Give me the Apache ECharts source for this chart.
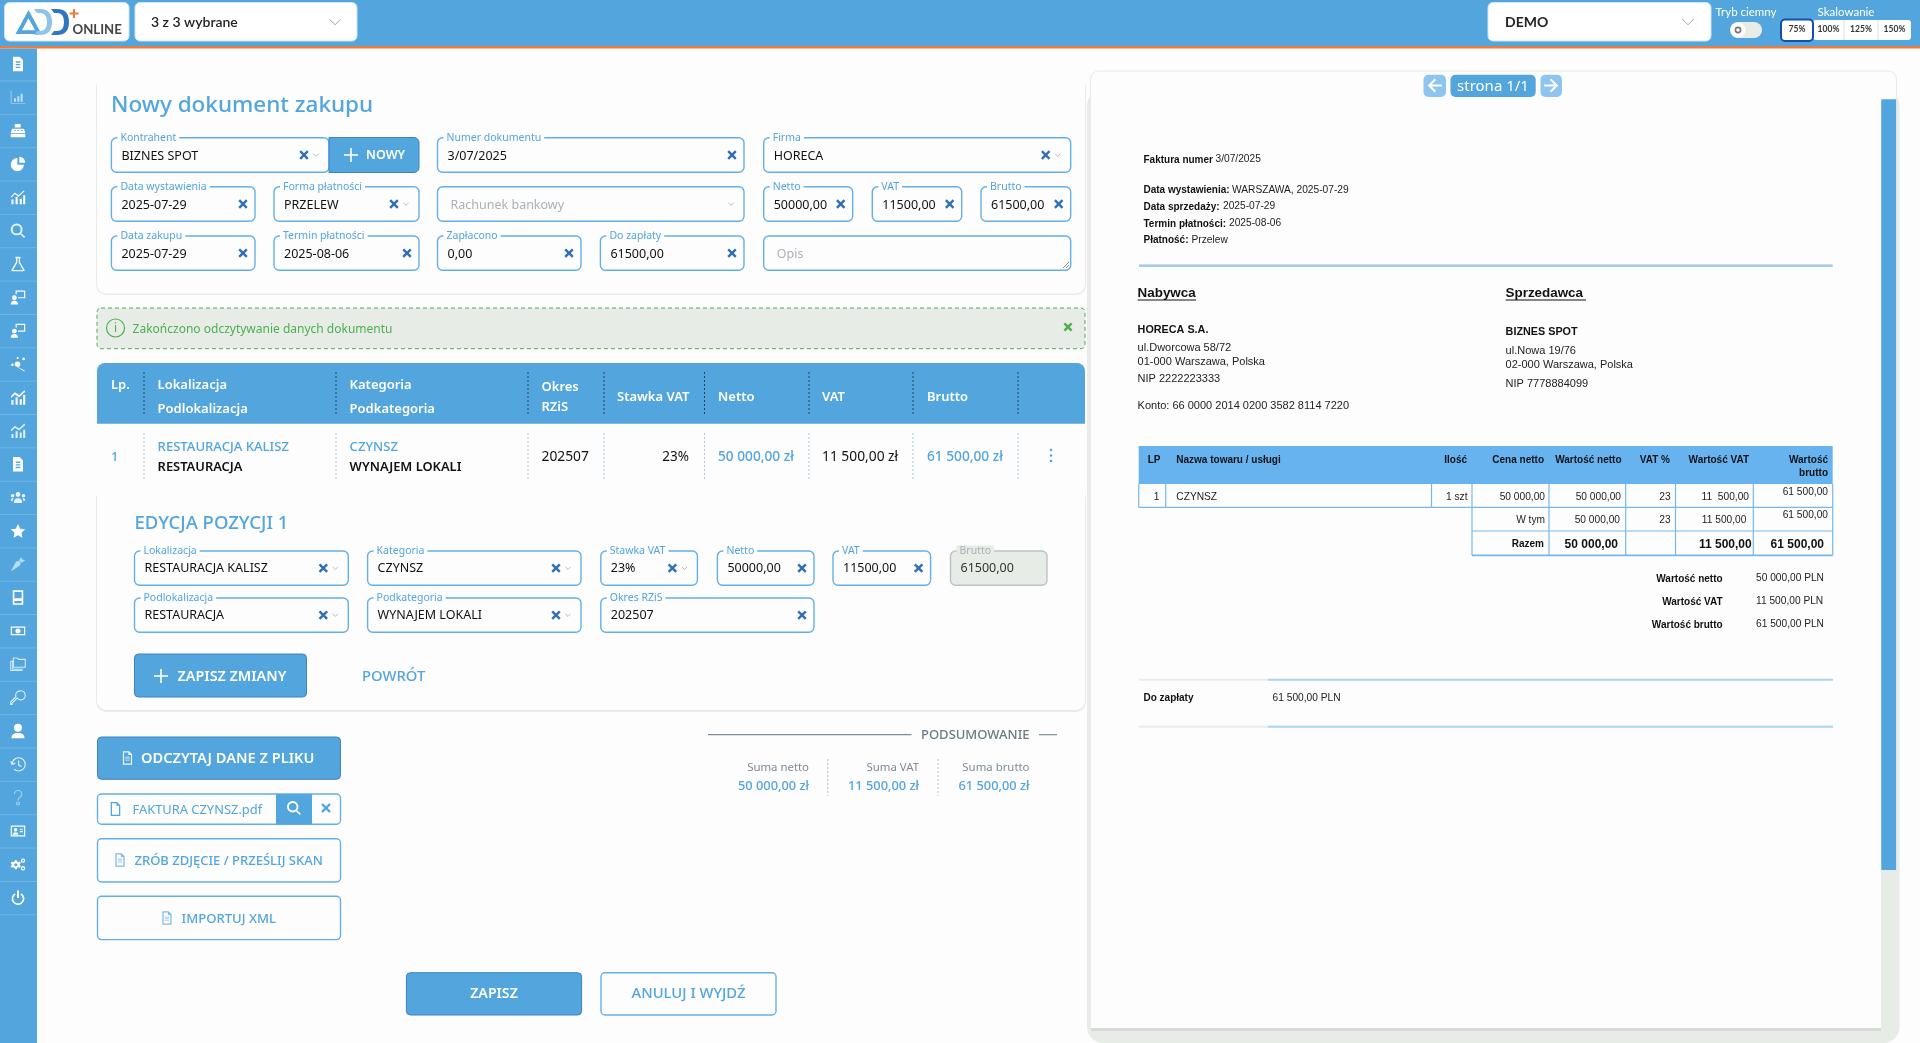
<!DOCTYPE html>
<html lang="pl">
<head>
<meta charset="utf-8">
<title>Nowy dokument zakupu</title>
<script src="https://cdn.jsdelivr.net/npm/echarts@6/dist/echarts.min.js"></script>
<style>
  html, body { margin: 0; height: 100%; background: #fdfdfd; }
  #main { width: 100vw; height: 100vh; }
</style>
</head>
<body>
<div id="main"></div>
<script>
// form texts
const topLabels = ['Kontrahent', 'Numer dokumentu', 'Firma', 'Data wystawienia', 'Forma płatności', '', 'Netto', 'VAT', 'Brutto', 'Data zakupu', 'Termin płatności', 'Zapłacono', 'Do zapłaty', '']
const topValues = ['BIZNES SPOT', '3/07/2025', 'HORECA', '2025-07-29', 'PRZELEW', '', '50000,00', '11500,00', '61500,00', '2025-07-29', '2025-08-06', '0,00', '61500,00', '']
const topHints = ['', '', '', '', '', 'Rachunek bankowy', '', '', '', '', '', '', '', 'Opis']
const editLabels = ['Lokalizacja', 'Kategoria', 'Stawka VAT', 'Netto', 'VAT', 'Brutto', 'Podlokalizacja', 'Podkategoria', 'Okres RZiS']
const editValues = ['RESTAURACJA KALISZ', 'CZYNSZ', '23%', '50000,00', '11500,00', '61500,00', 'RESTAURACJA', 'WYNAJEM LOKALI', '202507']

// position table
const rowLp = '1'
const rowLocation = ['RESTAURACJA KALISZ', 'RESTAURACJA']
const rowCategory = ['CZYNSZ', 'WYNAJEM LOKALI']
const rowPeriod = '202507'
const rowRate = '23%'
const rowAmounts = ['50 000,00 zł', '11 500,00 zł', '61 500,00 zł']
const summaryLabels = ['Suma netto', 'Suma VAT', 'Suma brutto']
const summaryValues = ['50 000,00 zł', '11 500,00 zł', '61 500,00 zł']

// invoice preview
const invoiceHeadLabels = ['Data wystawienia:', 'Data sprzedaży:', 'Termin płatności:', 'Płatność:']
const invoiceHeadValues = ['WARSZAWA, 2025-07-29', '2025-07-29', '2025-08-06', 'Przelew']
const buyerLines = ['ul.Dworcowa 58/72', '01-000 Warszawa, Polska', 'NIP 2222223333', 'Konto: 66 0000 2014 0200 3582 8114 7220']
const sellerLines = ['ul.Nowa 19/76', '02-000 Warszawa, Polska', 'NIP 7778884099']
const invoiceColumns = ['Ilość', 'Cena netto', 'Wartość netto', 'VAT %', 'Wartość VAT', 'Wartość']
const invoiceRow = ['1 szt', '50 000,00', '50 000,00', '23', '11  500,00', '61 500,00']
const invoiceSubRow = ['W tym', '50 000,00', '23', '11 500,00', '61 500,00']
const invoiceTotals = ['Razem', '50 000,00', '11 500,00', '61 500,00']
const invoiceSumLabels = ['Wartość netto', 'Wartość VAT', 'Wartość brutto']
const invoiceSumValues = ['50 000,00 PLN', '11 500,00 PLN', '61 500,00 PLN']
const scaleSteps = ['75%', '100%', '125%', '150%']

const BLUE = '#52a5dd'
const BG = '#fdfdfd'
const GREY = '#e8ece7'
const EDGE = '#3f82c0'
const els = []

const rect = (x, y, w, h, fill, stroke, lw, r, dash) => els.push({
  type: 'rect', silent: true,
  shape: { x, y, width: w, height: h, r: r || 0 },
  style: { fill: fill || 'none', stroke: stroke || 'none', lineWidth: lw || 0, lineDash: dash }
})
const line = (x1, y1, x2, y2, color, lw, dash) => els.push({
  type: 'line', silent: true,
  shape: { x1, y1, x2, y2 },
  style: { stroke: color, lineWidth: lw || 1, lineDash: dash }
})
const txt = (text, x, y, color, font, align, extra) => els.push({
  type: 'text', silent: true, x, y,
  style: Object.assign({ text, fill: color, font, textAlign: align || 'left', textVerticalAlign: 'middle' }, extra)
})
const noto = (size, weight) => `${weight || 400} ${size}px "Noto Sans"`
const lato = (size, weight) => `${weight || 400} ${size}px Lato`
const arial = (size, weight) => `${weight || 400} ${size}px "Liberation Sans"`

// graphic has no plain path type, so every icon outline is registered as a shape
const iconShapes = {}
const iconShape = d => {
  if (!iconShapes[d]) {
    const name = 'icon' + Object.keys(iconShapes).length
    const Cls = echarts.graphic.extendPath(d, {})
    echarts.graphic.registerShape(name, Cls)
    iconShapes[d] = { name, box: new Cls().getBoundingRect() }
  }
  return iconShapes[d]
}
const icon = (d, cx, cy, size, color, stroked, lw, opacity) => {
  const { name, box } = iconShape(d)
  const k = size / Math.max(box.width, box.height)
  const op = opacity == null ? 1 : opacity
  els.push({
    type: name, silent: true,
    x: cx - (box.x + box.width / 2) * k,
    y: cy - (box.y + box.height / 2) * k,
    scaleX: k, scaleY: k,
    style: stroked
      ? { fill: 'none', stroke: color, lineWidth: (lw || 1.2) / k, opacity: op }
      : { fill: color, opacity: op }
  })
}
const cross = (cx, cy, color, half, lw) => {
  const d = half || 3.8
  line(cx - d, cy - d, cx + d, cy + d, color || '#2f6fb5', lw || 2.4)
  line(cx - d, cy + d, cx + d, cy - d, color || '#2f6fb5', lw || 2.4)
}
const chevron = (cx, cy, d, color) => {
  const s = d || 2.6
  line(cx - s, cy - s / 2, cx, cy + s / 2, color || '#b4bcc2', 1)
  line(cx, cy + s / 2, cx + s, cy - s / 2, color || '#b4bcc2', 1)
}
const plus = (cx, cy, d) => {
  line(cx - d, cy, cx + d, cy, '#fff', 1.6)
  line(cx, cy - d, cx, cy + d, '#fff', 1.6)
}
const DOC = 'M5 1H15L20 6V23H5ZM7 3V21H18V7H14V3Z'
const DOC_LINES = 'M5 1H15L20 6V23H5ZM7 3V21H18V7H14V3ZM9 10V11H16V10ZM9 13V14H16V13ZM9 16V17H16V16Z'

// one input with its floating label
const field = (label, value, hint, x1, x2, y1, y2, mode, dy) => {
  const disabled = mode === 'off'
  rect(x1, y1, x2 - x1, y2 - y1, disabled ? GREY : BG, disabled ? '#b9c2c6' : '#63b0e8', 1.4, 5)
  if (label) {
    txt(label, x1 + 6, y1, disabled ? '#a8b0b4' : BLUE, noto(10.5), 'left', { backgroundColor: disabled ? GREY : BG, padding: [0, 3] })
  }
  const cy = (y1 + y2) / 2
  txt(value || hint, x1 + (value ? 10 : 13), cy + 0.5 + (dy || 0), value ? (disabled ? '#333' : '#111') : '#aab0b5', noto(12.5))
  if (mode === 'select') { cross(x2 - 25, cy); chevron(x2 - 13, cy) }
  if (mode === 'clear') cross(x2 - 12, cy)
  if (mode === 'chevron') chevron(x2 - 13, cy)
}

// ---- page frame ----
rect(0, 0, 1920, 46, BLUE)
rect(0, 46, 1920, 2.5, '#ee7b3a')
rect(0, 48.5, 37, 994.5, BLUE)

const sideIcons = [
  ['M5 1H15L20 6V23H5ZM9 8V10H16V8ZM9 12V14H16V12ZM9 16V18H16V16Z', 0, 1],
  ['M1 3H2V21H23V22H1ZM6 14H9V19H6ZM11 11H14V19H11ZM16 7H19V19H16Z', 0, 0.65],
  ['M7 2H16V7H7ZM3 9H21L23 16H1ZM1 17H23V22H1ZM6 11V12H9V11ZM11 11V12H14V11ZM16 11V12H19V11Z', 0, 1],
  ['M11 3A10 10 0 1 0 21 13H11ZM14 1A10 10 0 0 1 23 10H14Z', 0, 1],
  ['M2 11L8 5L13 9L21 2L22 3L13 11L8 7L3 12ZM3 15H6V22H3ZM9 11H12V22H9ZM15 14H18V22H15ZM20 9H23V22H20Z', 0, 1],
  ['M10 1A9 9 0 1 1 10 19A9 9 0 1 1 10 1ZM10 4A6 6 0 1 0 10 16A6 6 0 1 0 10 4ZM16 15L23 21L21 23L15 17Z', 0, 0.85],
  ['M8 1H16V3H15V9L22 21Q23 23 20 23H4Q1 23 2 21L9 9V3H8ZM11 3V10L4.5 21H19.5L13 10V3Z', 0, 0.9],
  ['M8 1H24V14H12V12H22V3H10V7H8ZM6 9A4 4 0 1 1 6 17A4 4 0 1 1 6 9ZM0 24Q0 18 6 18Q12 18 12 24Z', 0, 1],
  ['M8 1H24V14H12V12H22V3H10V7H8ZM6 9A4 4 0 1 1 6 17A4 4 0 1 1 6 9ZM0 24Q0 18 6 18Q12 18 12 24Z', 0, 1],
  ['M10 8A4 4 0 1 1 10 16L21 22L20 23L9 16A4 4 0 0 1 10 8ZM19 2A2 2 0 1 1 19 6A2 2 0 1 1 19 2ZM2 11A2 2 0 1 1 2 15A2 2 0 1 1 2 11ZM10 1A1.5 1.5 0 1 1 10 4A1.5 1.5 0 1 1 10 1Z', 0, 1],
  ['M1 10L7 4L13 8L21 1L22 3L13 11L7 7L2 12ZM2 15H5V22H2ZM8 11H11V22H8ZM14 14H17V22H14ZM19 8H22V22H19Z', 0, 1],
  ['M1 10L7 4L13 8L21 1L22 3L13 11L7 7L2 12ZM2 16H5V22H2ZM8 12H11V22H8ZM14 14H17V22H14ZM19 10H22V22H19Z', 0, 0.8],
  ['M5 1H15L20 6V23H5ZM9 8V10H16V8ZM9 12V14H16V12ZM9 16V18H16V16Z', 0, 1],
  ['M12 3A4 4 0 1 1 12 11A4 4 0 1 1 12 3ZM5 21Q5 13 12 13Q19 13 19 21ZM3 6A3 3 0 1 1 3 12A3 3 0 1 1 3 6ZM21 6A3 3 0 1 1 21 12A3 3 0 1 1 21 6ZM0 17Q0 13 3 13H5Q3 15 3 18ZM24 17Q24 13 21 13H19Q21 15 21 18Z', 0, 0.85],
  ['M12 1L15.5 8.5L23.5 9.5L17.5 15L19 23L12 19L5 23L6.5 15L.5 9.5L8.5 8.5Z', 0, 1],
  ['M1 23L9 8Q13 5 16 8Q18 11 15 14ZM14 5L18 0L19 4L24 5L18 9Z', 0, 0.6],
  ['M4 1H20V23H4ZM6.5 3.5V13H17.5V3.5ZM6.5 17V20.5H17.5V17Z', 0, 1],
  ['M1 5H24V19H1ZM3 7V17H22V7ZM12.5 8A4 4 0 1 1 12.5 16A4 4 0 1 1 12.5 8Z', 0, 1],
  ['M1 8H4V20H18V22H1ZM5 3H11L13 5H23V17H5Z', 1, 0.75],
  ['M15 2A7 7 0 1 1 11 13L3 21V23H1V19L9 11A7 7 0 0 1 15 2Z', 1, 0.85],
  ['M12 1A6 6 0 1 1 12 13A6 6 0 1 1 12 1ZM2 23Q2 15 12 15Q22 15 22 23Z', 0, 1],
  ['M3 12A10 10 0 1 1 6 19M1 7L3 12L8 10M13 6V13L17 15', 1, 0.85],
  ['M7 7A5 5 0 1 1 14 12Q12 13 12 16M12 18A2 2 0 1 1 12 22A2 2 0 1 1 12 18Z', 1, 0.5],
  ['M0 3H24V21H0ZM2 5V19H22V5ZM8 7A3 3 0 1 1 8 13A3 3 0 1 1 8 7ZM3.5 18Q3.5 14 8 14Q12.5 14 12.5 18ZM15 8V10H20V8ZM15 12V14H20V12Z', 0, 1],
  ['M7 6H10L10.5 8L13 9L15 8L16.5 10.500L15 12L15 14L16.5 15.500L15 18L13 17L10.500 18L10 20H7L6.500 18L4 17L2 18L.5 15.500L2 14V12L.5 10.500L2 8L4 9L6.500 8ZM8.500 10.500A2.500 2.500 0 1 0 8.500 15.500A2.500 2.500 0 1 0 8.500 10.500ZM20 3A3.500 3.500 0 1 1 20 10A3.500 3.500 0 1 1 20 3ZM20 5A1.500 1.500 0 1 0 20 8A1.500 1.500 0 1 0 20 5ZM20 15A3.500 3.500 0 1 1 20 22A3.500 3.500 0 1 1 20 15ZM20 17A1.500 1.500 0 1 0 20 20A1.500 1.500 0 1 0 20 17Z', 0, 1],
  ['M7 5A9.5 9.5 0 1 0 17 5L15.5 7A7 7 0 1 1 8.5 7ZM10.5 1H13.5V12H10.5Z', 0, 1]
]
sideIcons.forEach((ic, i) => {
  const cy = 64 + i * 33.35
  line(0, cy + 17, 37, cy + 17, '#70b6e6', 1)
  icon(ic[0], 18, cy, 14.5, '#fff', ic[1] === 1, 1.1, ic[2])
})

// logo and selects in the top bar
rect(4.5, 2.5, 124.5, 38.5, '#fff', '#cfe4f4', 1, 5)
icon('M14 0L28 26H0ZM14 9L7 22H21Z', 28.5, 22, 26, '#52a5dd')
icon('M0 0H6Q18 0 18 13Q18 26 6 26H0L3 22H6Q13 22 13 13Q13 4 6 4H3Z', 43, 22, 26, '#8ec4ea')
icon('M0 0H6Q18 0 18 13Q18 26 6 26H0L3 22H6Q13 22 13 13Q13 4 6 4H3Z', 60, 22, 26, '#2f78c0')
line(74, 9, 74, 18, '#ee7b3a', 2)
line(69.5, 13.5, 78.5, 13.5, '#ee7b3a', 2)
txt('ONLINE', 72.5, 30, '#444', lato(13.2, 700))
rect(135, 2.5, 222, 38.5, '#fff', '#cfe4f4', 1, 5)
txt('3 z 3 wybrane', 151, 22.5, '#222', lato(14, 600))
chevron(335, 22, 5.5, '#9aa5ad')
rect(1488, 2.5, 223, 38.5, '#fff', '#cfe4f4', 1, 5)
txt('DEMO', 1505, 22.5, '#222', lato(14, 700))
chevron(1688, 22, 5.5, '#9aa5ad')
txt('Tryb ciemny', 1746, 12, '#fff', lato(11.5), 'center')
rect(1730, 22, 32, 16, GREY, null, 0, 8)
els.push({ type: 'circle', silent: true, shape: { cx: 1738, cy: 30, r: 7.5 }, style: { fill: '#fff' } })
els.push({ type: 'circle', silent: true, shape: { cx: 1738, cy: 30, r: 2.6 }, style: { fill: 'none', stroke: '#777', lineWidth: 1.6 } })
txt('Skalowanie', 1846, 12, '#fff', lato(11.5), 'center')
const scaleEdges = [1781, 1813, 1844, 1878, 1911]
rect(1813, 20, 98, 20, '#fff', null, 0, 3)
scaleSteps.forEach((s, i) => {
  if (i === 0) rect(scaleEdges[0], 19.5, 32, 21.5, '#fff', '#1450a8', 2, 4)
  else if (i > 1) line(scaleEdges[i], 20, scaleEdges[i], 40, '#dfe3e3', 1)
  txt(s, (scaleEdges[i] + scaleEdges[i + 1]) / 2, 29.5, '#333', lato(8.5, 700), 'center')
})

// ---- header card ----
rect(96, 77, 990, 218, GREY, null, 0, 10)
rect(97, 70, 988, 223.5, BG, null, 0, [0, 0, 9, 9])
txt('Nowy dokument zakupu', 111, 106, BLUE, noto(22.5, 500))

const topBoxes = [
  [111.4, 329, 137.7, 172.3, 'select'], [437.5, 744, 137.7, 172.3, 'clear'], [763.7, 1070.7, 137.7, 172.3, 'select'],
  [111.4, 255, 186.7, 221.3, 'clear'], [274, 419, 186.7, 221.3, 'select'], [437.5, 744, 186.7, 221.3, 'chevron'],
  [763.7, 852.7, 186.7, 221.3, 'clear'], [872.3, 961.7, 186.7, 221.3, 'clear'], [981, 1070.7, 186.7, 221.3, 'clear'],
  [111.4, 255, 236, 270.3, 'clear'], [274, 419, 236, 270.3, 'clear'], [437.5, 581, 236, 270.3, 'clear'], [600.4, 744, 236, 270.3, 'clear'],
  [763.7, 1070.7, 236, 270.3, 'none']
]
topBoxes.forEach((b, i) => field(topLabels[i], topValues[i], topHints[i], b[0], b[1], b[2], b[3], b[4], 1))
line(1063, 268, 1069, 262, '#777', 0.8)
line(1066, 268, 1069, 265, '#777', 0.8)
rect(329, 137.5, 90, 35, BLUE, EDGE, 1, [0, 5, 5, 0])
plus(351, 155, 7)
txt('NOWY', 366, 155, '#fff', noto(12.5, 600))

// status bar
rect(97, 308, 988, 40.7, GREY, '#4caf50', 1, 4, [4, 3])
els.push({ type: 'circle', silent: true, shape: { cx: 115.5, cy: 328, r: 9 }, style: { fill: 'none', stroke: '#4caf50', lineWidth: 1.2 } })
txt('i', 115.5, 328.5, '#4caf50', noto(12), 'center')
txt('Zakończono odczytywanie danych dokumentu', 132.6, 329.5, '#4caf50', noto(12))
cross(1068, 327, '#4caf50', 3.6, 2.4)

// ---- position table ----
rect(97, 363, 988, 60.7, BLUE, null, 0, [8, 8, 0, 0])
const tableRules = [144, 336, 528, 604, 704.5, 809, 913, 1018]
tableRules.forEach(x => {
  line(x, 372, x, 415, '#23425a', 1, [2, 2])
  line(x, 433, x, 479, '#a9c7dc', 1, [2, 2])
})
const hFont = noto(13, 600)
txt('Lp.', 111, 385, '#fff', hFont)
txt('Lokalizacja', 157.6, 385, '#fff', hFont)
txt('Podlokalizacja', 157.6, 409.5, '#fff', hFont)
txt('Kategoria', 349.6, 385, '#fff', hFont)
txt('Podkategoria', 349.6, 409.5, '#fff', hFont)
txt('Okres', 541.5, 387, '#fff', hFont)
txt('RZiS', 541.5, 407, '#fff', hFont)
txt('Stawka VAT', 617, 397, '#fff', hFont)
txt('Netto', 718, 397, '#fff', hFont)
txt('VAT', 822, 397, '#fff', hFont)
txt('Brutto', 927, 397, '#fff', hFont)

const cFont = noto(13.1, 500)
const cDark = noto(12.9, 600)
txt(rowLp, 111, 457, BLUE, cFont)
txt(rowLocation[0], 157.6, 447, BLUE, cFont)
txt(rowLocation[1], 157.6, 467, '#111', cDark)
txt(rowCategory[0], 349.6, 447, BLUE, cFont)
txt(rowCategory[1], 349.6, 467, '#111', cDark)
txt(rowPeriod, 541.5, 457, '#111', noto(13.8))
txt(rowRate, 689, 457, '#111', noto(13.5), 'right')
txt(rowAmounts[0], 718, 457, BLUE, noto(13.7, 500))
txt(rowAmounts[1], 822, 457, '#111', noto(13.8))
txt(rowAmounts[2], 927, 457, BLUE, noto(13.7, 500))
;[450, 455.5, 461].forEach(y => els.push({ type: 'circle', silent: true, shape: { cx: 1051, cy: y, r: 1.3 }, style: { fill: BLUE } }))

// ---- edit card ----
rect(96, 488, 990, 224, GREY, null, 0, 10)
rect(97, 484, 988, 226, BG, null, 0, [0, 0, 9, 9])
txt('EDYCJA POZYCJI 1', 134.5, 524, BLUE, noto(18.5, 500))
const editBoxes = [
  [134.5, 348.3, 551, 585.3, 'select'], [367.6, 581, 551, 585.3, 'select'], [600.8, 697.4, 551, 585.3, 'select'],
  [717.4, 814, 551, 585.3, 'clear'], [833, 930.6, 551, 585.3, 'clear'], [950.5, 1047, 551, 585.3, 'off'],
  [134.5, 348.3, 598, 632.3, 'select'], [367.6, 581, 598, 632.3, 'select'], [600.8, 814, 598, 632.3, 'clear']
]
editBoxes.forEach((b, i) => field(editLabels[i], editValues[i], '', b[0], b[1], b[2], b[3], b[4]))
rect(134.5, 654, 172, 43, BLUE, EDGE, 1, 4)
plus(161, 676, 7)
txt('ZAPISZ ZMIANY', 177.5, 677, '#fff', noto(14.4, 600))
txt('POWRÓT', 362, 676.5, BLUE, noto(14.8, 500))

// ---- left buttons ----
rect(97.5, 737, 243, 42.3, BLUE, EDGE, 1, 4)
icon(DOC_LINES, 127.5, 758, 13.5, '#fff', false, 0, 0.9)
txt('ODCZYTAJ DANE Z PLIKU', 141, 759, '#fff', noto(14.6, 600))
rect(97.5, 794, 243, 30.3, BG, '#63b0e8', 1.4, 4)
icon(DOC, 115.5, 809, 14, BLUE)
txt('FAKTURA CZYNSZ.pdf', 132.5, 810.5, BLUE, noto(12.9))
rect(276, 794, 36, 30.3, BLUE)
icon('M10 1A9 9 0 1 1 10 19A9 9 0 1 1 10 1ZM10 4A6 6 0 1 0 10 16A6 6 0 1 0 10 4ZM16 15L23 21L21 23L15 17Z', 294, 808, 14, '#fff')
cross(326, 808, BLUE, 4, 2.4)
rect(97.5, 838.7, 243, 43.3, BG, '#63b0e8', 1.4, 4)
icon(DOC_LINES, 120, 860, 13.5, BLUE, false, 0, 0.75)
txt('ZRÓB ZDJĘCIE / PRZEŚLIJ SKAN', 134.5, 861, BLUE, noto(13, 500))
rect(97.5, 896.3, 243, 43.3, BG, '#63b0e8', 1.4, 4)
icon(DOC_LINES, 167, 918, 13.5, BLUE, false, 0, 0.75)
txt('IMPORTUJ XML', 181.5, 919, BLUE, noto(13.1, 500))
rect(406.4, 972.7, 175.2, 42.3, BLUE, EDGE, 1, 4)
txt('ZAPISZ', 494, 994, '#fff', noto(14.2, 600), 'center')
rect(601, 972.7, 175, 42.3, BG, '#63b0e8', 1.4, 4)
txt('ANULUJ I WYJDŹ', 688.5, 994, BLUE, noto(14.8, 500), 'center')

// ---- summary ----
line(708, 734.7, 911.5, 734.7, '#7f8f9a', 1.2)
txt('PODSUMOWANIE', 921, 735, '#6b7a85', noto(13, 500))
line(1039, 734.7, 1057, 734.7, '#7f8f9a', 1.2)
const summaryRight = [809, 919, 1029.5]
summaryLabels.forEach((s, i) => {
  txt(s, summaryRight[i], 768, '#7c8a94', noto(11.4), 'right')
  txt(summaryValues[i], summaryRight[i], 786, BLUE, noto(12.8, 500), 'right')
})
line(827.8, 759, 827.8, 796, '#b5bfc5', 1, [2, 2])
line(938, 759, 938, 796, '#b5bfc5', 1, [2, 2])

// ---- invoice panel ----
rect(1087, 90, 812.5, 953, GREY, null, 0, 16)
rect(1090.5, 71, 806, 30, BG, GREY, 1, [8, 8, 0, 0])
rect(1091, 95, 790, 933, BG)
rect(1091, 1028, 790, 3, '#d6d9d8')
rect(1881.3, 99.3, 14.8, 770.7, BLUE)
rect(1423.5, 74.7, 22.5, 22.3, '#8dc5ee', null, 0, 5)
rect(1450.5, 74.7, 85.2, 22.3, BLUE, null, 0, 5)
rect(1540.5, 74.7, 21.5, 22.3, '#8dc5ee', null, 0, 5)
const ARROW = 'M12 2L14 4L7.5 10.5H22V13.5H7.5L14 20L12 22L2 12Z'
icon(ARROW, 1434.7, 85.5, 14, '#fff')
icon('M12 2L10 4L16.5 10.5H2V13.5H16.5L10 20L12 22L22 12Z', 1551.2, 85.5, 14, '#fff')
txt('strona 1/1', 1493, 86.5, '#fff', noto(15), 'center')

const ibold = arial(10, 700)
const ireg = arial(10.2)
txt('Faktura numer', 1143.5, 160, '#111', ibold)
txt('3/07/2025', 1215.5, 159.5, '#222', ireg)
const headY = [190.3, 207, 224, 240.7]
const headValueX = [1232, 1223, 1229, 1191.5]
invoiceHeadLabels.forEach((s, i) => {
  txt(s, 1143.5, headY[i], '#111', ibold)
  txt(invoiceHeadValues[i], headValueX[i], headY[i] - 0.5, '#222', ireg)
})
line(1139, 264.7, 1832.7, 264.7, '#c9d3d8', 1)
line(1139, 266, 1832.7, 266, '#85bfeb', 1.6)

txt('Nabywca', 1137.6, 293, '#111', arial(13.4, 700))
line(1137.6, 300, 1196, 300, '#111', 1)
txt('Sprzedawca', 1505.6, 293, '#111', arial(13.4, 700))
line(1505.6, 300, 1586, 300, '#111', 1)
txt('HORECA S.A.', 1137.6, 330, '#111', arial(10.8, 700))
const buyerY = [348, 361.7, 379, 406.3]
buyerLines.forEach((s, i) => txt(s, 1137.6, buyerY[i], '#222', arial(11)))
txt('BIZNES SPOT', 1505.6, 332, '#111', arial(10.8, 700))
const sellerY = [350.7, 364.7, 383.7]
sellerLines.forEach((s, i) => txt(s, 1505.6, sellerY[i], '#222', arial(11)))

// invoice table
rect(1138.7, 446, 694, 38, '#66b3f0')
const tLine = '#74b8ee'
line(1138.7, 507.3, 1832.7, 507.3, tLine, 1.2)
line(1472, 531, 1832.7, 531, tLine, 1.2)
line(1472, 555.3, 1832.7, 555.3, tLine, 1.8)
line(1138.7, 484, 1138.7, 507.3, tLine, 1.2)
line(1165.7, 484, 1165.7, 507.3, tLine, 1.2)
line(1431.5, 484, 1431.5, 507.3, tLine, 1.2)
;[1472, 1549, 1625.7, 1675.5, 1753.3, 1832.7].forEach(x => line(x, 484, x, 555.3, tLine, 1.2))

txt('LP', 1147.7, 460, '#111', ibold)
txt('Nazwa towaru / usługi', 1176.3, 460, '#111', ibold)
const colRight = [1467, 1544, 1621.5, 1670, 1749, 1828]
invoiceColumns.forEach((s, i) => txt(s, colRight[i], 460, '#111', ibold, 'right'))
txt('brutto', 1828, 473, '#111', ibold, 'right')

txt('1', 1159.3, 496.7, '#222', ireg, 'right')
txt('CZYNSZ', 1176.3, 496.7, '#222', ireg)
const rowRight = [1467.5, 1545, 1621, 1670.7, 1749, 1828]
invoiceRow.forEach((s, i) => txt(s, rowRight[i], i === 5 ? 491.7 : 496.7, '#222', ireg, 'right'))
const subRight = [1545, 1620, 1670.7, 1746.4, 1828]
invoiceSubRow.forEach((s, i) => txt(s, subRight[i], i === 4 ? 515 : 520, '#222', ireg, 'right'))
const totRight = [1544, 1618, 1751.7, 1824]
invoiceTotals.forEach((s, i) => txt(s, totRight[i], 544.3, '#111', i === 0 ? ibold : arial(12, 700), 'right'))

const sumY = [579, 602, 625]
invoiceSumLabels.forEach((s, i) => {
  txt(s, 1722.6, sumY[i], '#111', ibold, 'right')
  txt(invoiceSumValues[i], 1756, sumY[i] - 0.5, '#222', ireg)
})
;[679.7, 726.7].forEach(y => {
  rect(1139, y - 1, 129, 2, GREY)
  rect(1268, y - 1, 565, 2, '#a8d4f2')
})
txt('Do zapłaty', 1143.5, 698, '#111', ibold)
txt(invoiceSumValues[2], 1272.6, 698, '#222', ireg)

const chart = echarts.init(document.getElementById('main'))
chart.setOption({
  animation: false,
  backgroundColor: BG,
  graphic: { elements: els }
})
</script>
</body>
</html>
